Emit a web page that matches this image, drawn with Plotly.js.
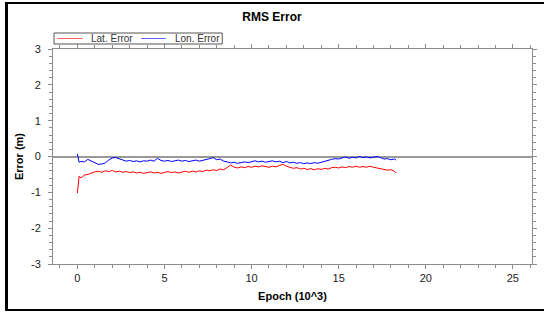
<!DOCTYPE html>
<html><head><meta charset="utf-8">
<script src="https://cdn.plot.ly/plotly-3.0.1.min.js"></script>
<style>
html,body{margin:0;padding:0;background:#fff;overflow:hidden;width:544px;height:312px;}
#chart{width:544px;height:312px;position:absolute;left:0;top:0;}
#frame{position:absolute;left:5px;top:2px;width:536px;height:305px;border-left:3px solid #000;border-top:2px solid #000;border-bottom:2px solid #000;pointer-events:none;}
</style></head>
<body>
<div id="chart"></div>
<div id="frame"></div>
<script>
const epoch = [0,0.05,0.1,0.2,0.4,0.6,0.8,1.0,1.2,1.4,1.6,1.8,2.0,2.2,2.4,2.6,2.8,3.0,3.2,3.4,3.6,3.8,4.0,4.2,4.4,4.6,4.8,5.0,5.2,5.4,5.6,5.8,6.0,6.2,6.4,6.6,6.8,7.0,7.2,7.4,7.6,7.8,8.0,8.2,8.4,8.6,8.8,9.0,9.2,9.4,9.6,9.8,10.0,10.2,10.4,10.6,10.8,11.0,11.2,11.4,11.6,11.8,12.0,12.2,12.4,12.6,12.8,13.0,13.2,13.4,13.6,13.8,14.0,14.2,14.4,14.6,14.8,15.0,15.2,15.4,15.6,15.8,16.0,16.2,16.4,16.6,16.8,17.0,17.2,17.4,17.6,17.8,18.0,18.2,18.3];
const latError = [-1.02,-0.62,-0.55,-0.6,-0.52,-0.5,-0.46,-0.43,-0.41,-0.44,-0.4,-0.42,-0.39,-0.43,-0.41,-0.44,-0.42,-0.45,-0.43,-0.46,-0.44,-0.47,-0.45,-0.43,-0.46,-0.44,-0.47,-0.45,-0.42,-0.45,-0.43,-0.46,-0.43,-0.41,-0.44,-0.41,-0.43,-0.4,-0.42,-0.38,-0.4,-0.37,-0.39,-0.35,-0.37,-0.31,-0.24,-0.3,-0.32,-0.29,-0.31,-0.28,-0.3,-0.27,-0.29,-0.26,-0.28,-0.3,-0.27,-0.29,-0.25,-0.22,-0.27,-0.3,-0.33,-0.31,-0.35,-0.33,-0.36,-0.34,-0.37,-0.34,-0.36,-0.33,-0.35,-0.31,-0.3,-0.32,-0.29,-0.31,-0.28,-0.3,-0.27,-0.3,-0.28,-0.3,-0.27,-0.3,-0.32,-0.34,-0.36,-0.38,-0.37,-0.41,-0.46];
const lonError = [0.07,-0.12,-0.16,-0.14,-0.15,-0.08,-0.12,-0.18,-0.22,-0.21,-0.18,-0.1,-0.04,-0.03,-0.07,-0.1,-0.13,-0.11,-0.14,-0.12,-0.15,-0.12,-0.13,-0.1,-0.13,-0.05,-0.11,-0.13,-0.11,-0.14,-0.12,-0.1,-0.13,-0.11,-0.14,-0.12,-0.1,-0.13,-0.11,-0.1,-0.06,-0.03,-0.09,-0.07,-0.13,-0.15,-0.18,-0.16,-0.19,-0.17,-0.15,-0.17,-0.14,-0.12,-0.15,-0.13,-0.16,-0.14,-0.12,-0.15,-0.13,-0.17,-0.14,-0.18,-0.16,-0.19,-0.17,-0.2,-0.18,-0.2,-0.17,-0.19,-0.16,-0.12,-0.1,-0.08,-0.06,-0.07,-0.04,-0.01,-0.05,-0.02,-0.04,0.0,-0.03,-0.01,-0.04,-0.02,0.0,-0.03,-0.07,-0.06,-0.09,-0.07,-0.1];
const seriesNames = ['Lat. Error', 'Lon. Error'];
const seriesColors = ['#ff0000', '#0000ff'];
const xTicks = [0,5,10,15,20,25];
const yTicks = [-3,-2,-1,0,1,2,3];

const font = "Liberation Sans, Arial, sans-serif";
const data = [
  {x: epoch, y: latError, type:'scatter', mode:'lines', name:seriesNames[0], line:{color:seriesColors[0], width:1}},
  {x: epoch, y: lonError, type:'scatter', mode:'lines', name:seriesNames[1], line:{color:seriesColors[1], width:1}}
];
// custom compact legend (paper coords)
const legY = 1.0488;
const shapes = [
  {type:'rect', xref:'paper', yref:'paper', x0:0.0021, x1:0.3533, y0:1.0233, y1:1.0744, line:{color:'#555', width:1}, fillcolor:'#fff'},
  {type:'line', xref:'paper', yref:'paper', x0:0.0086, x1:0.0621, y0:legY, y1:legY, line:{color:'#ff6060', width:1}},
  {type:'line', xref:'paper', yref:'paper', x0:0.1842, x1:0.2355, y0:legY, y1:legY, line:{color:'#6060ff', width:1}}
];
const annotations = [
  {xref:'paper', yref:'paper', x:0.0749, y:legY, xanchor:'left', yanchor:'middle', showarrow:false, text:seriesNames[0], font:{family:font, size:10, color:'#333'}},
  {xref:'paper', yref:'paper', x:0.2505, y:legY, xanchor:'left', yanchor:'middle', showarrow:false, text:seriesNames[1], font:{family:font, size:10, color:'#333'}}
];
const axisCommon = {
  showgrid:false, showline:true, linecolor:'#8c8c8c', linewidth:1, mirror:'ticks',
  ticks:'outside', ticklen:4, tickcolor:'#8c8c8c', tickwidth:1,
  tickfont:{family:font, size:11, color:'#222'}
};
const layout = {
  width:544, height:312,
  margin:{l:53, r:12, t:49, b:48},
  paper_bgcolor:'#fff', plot_bgcolor:'#fff',
  title:{text:'<b>RMS Error</b>', font:{family:font, size:12, color:'#000'}, x:0.5, xanchor:'center', y:0.945, yanchor:'middle'},
  showlegend:false,
  shapes: shapes,
  annotations: annotations,
  xaxis: Object.assign({}, axisCommon, {
    range:[-1.4, 26.1], tickvals:xTicks, ticktext:xTicks.map(String), zeroline:false,
    minor:{dtick:1, ticks:'outside', ticklen:3, tickcolor:'#8c8c8c'},
    title:{text:'<b>Epoch (10^3)</b>', font:{family:font, size:11, color:'#000'}, standoff:9}
  }),
  yaxis: Object.assign({}, axisCommon, {
    range:[-3, 3], tickvals:yTicks, ticktext:yTicks.map(String),
    zeroline:true, zerolinecolor:'#999', zerolinewidth:2,
    minor:{dtick:0.2, ticks:'outside', ticklen:3, tickcolor:'#8c8c8c'},
    ticklabelstandoff:5,
    title:{text:'<b>Error (m)</b>', font:{family:font, size:11, color:'#000'}, standoff:5}
  })
};
Plotly.newPlot('chart', data, layout, {staticPlot:true, displayModeBar:false});
</script>
</body></html>
